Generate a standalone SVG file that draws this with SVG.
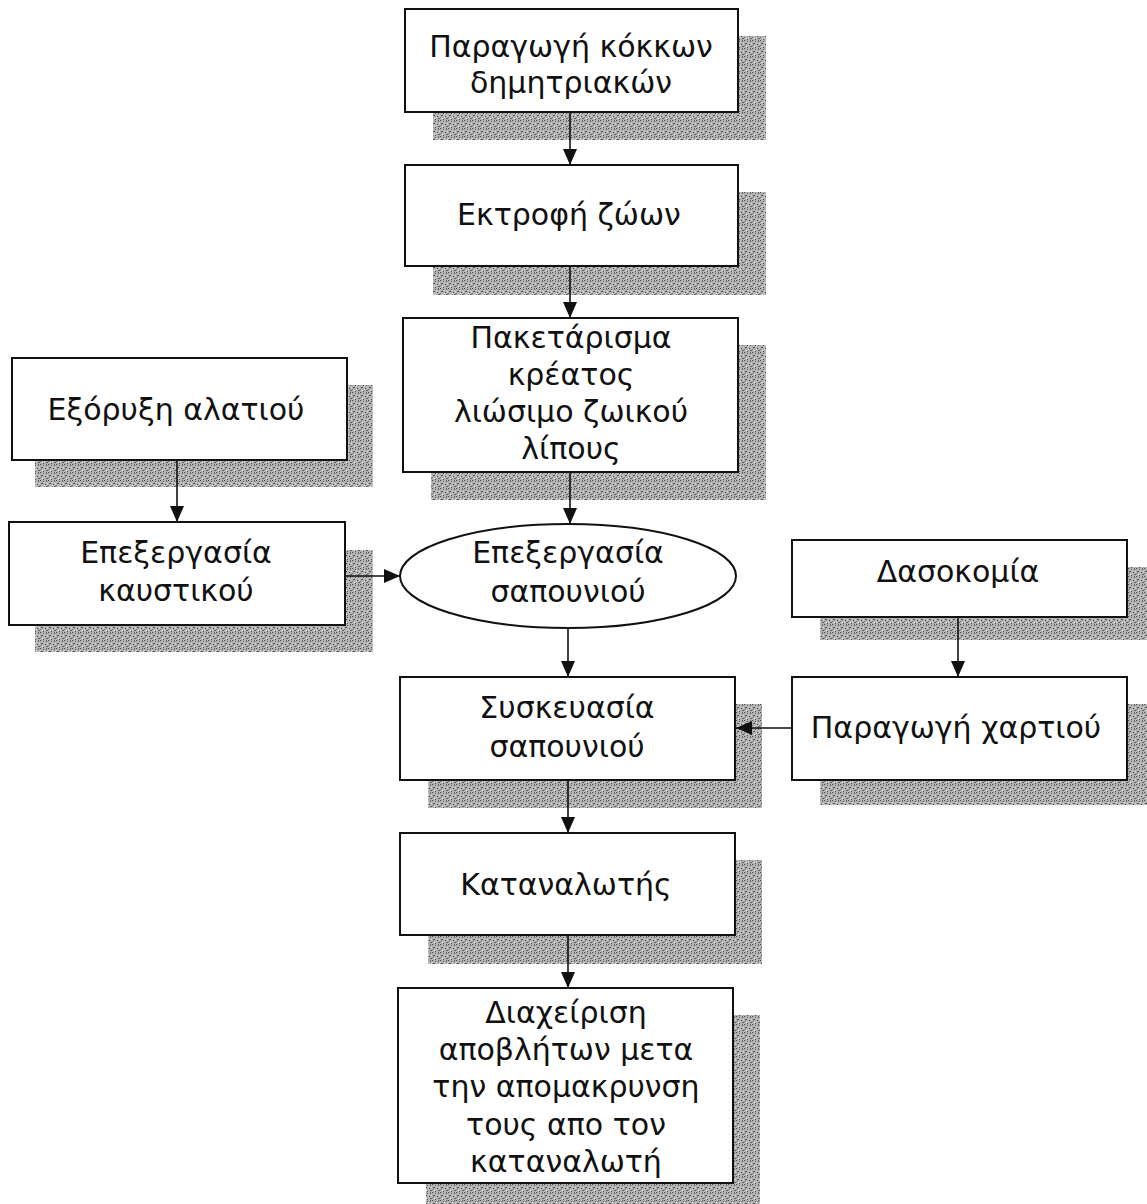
<svg xmlns="http://www.w3.org/2000/svg" width="1147" height="1204" viewBox="0 0 1147 1204">
  <style>
    .box { fill: #ffffff; stroke: #111111; stroke-width: 2; }
    .shadow { fill: url(#grain); }
    .lbl { font-family: "DejaVu Sans", "Liberation Sans", sans-serif; font-size: 30px; fill: #111111; text-anchor: middle; }
    .edge { stroke: #111111; stroke-width: 1.6; fill: none; marker-end: url(#head); }
  </style>
  <defs>
    <!-- dithered grey used for the drop shadows -->
    <pattern id="grain" width="8" height="8" patternUnits="userSpaceOnUse">
      <rect width="8" height="8" fill="#b2b2b2"/>
      <rect x="0" y="0" width="1" height="1" fill="#444444"/>
      <rect x="3" y="1" width="1" height="1" fill="#575757"/>
      <rect x="6" y="0" width="1" height="2" fill="#6a6a6a"/>
      <rect x="1" y="3" width="2" height="1" fill="#505050"/>
      <rect x="5" y="4" width="1" height="1" fill="#4c4c4c"/>
      <rect x="7" y="3" width="1" height="1" fill="#e2e2e2"/>
      <rect x="2" y="6" width="1" height="1" fill="#e8e8e8"/>
      <rect x="4" y="2" width="1" height="1" fill="#dcdcdc"/>
      <rect x="6" y="6" width="2" height="1" fill="#606060"/>
      <rect x="0" y="5" width="1" height="1" fill="#747474"/>
      <rect x="3" y="7" width="1" height="1" fill="#555555"/>
      <rect x="4" y="5" width="1" height="1" fill="#d8d8d8"/>
    </pattern>
    <marker id="head" markerWidth="16" markerHeight="14" refX="16" refY="7" orient="auto" markerUnits="userSpaceOnUse">
      <path d="M0,0 L16,7 L0,14 Z" fill="#111111"/>
    </marker>
  </defs>

  <g id="n-grain">
    <rect class="shadow" x="433" y="36" width="333" height="104"/>
    <rect class="box" x="405" y="9" width="333" height="103"/>
    <text class="lbl" x="571" y="57">Παραγωγή κόκκων</text>
    <text class="lbl" x="571" y="93">δημητριακών</text>
  </g>

  <g id="n-livestock">
    <rect class="shadow" x="433" y="192" width="333" height="103"/>
    <rect class="box" x="405" y="165" width="333" height="101"/>
    <text class="lbl" x="569" y="225">Εκτροφή ζώων</text>
  </g>

  <g id="n-meat">
    <rect class="shadow" x="431" y="345" width="335" height="155"/>
    <rect class="box" x="403" y="318" width="335" height="154"/>
    <text class="lbl" x="571" y="348">Πακετάρισμα</text>
    <text class="lbl" x="571" y="385">κρέατος</text>
    <text class="lbl" x="571" y="422">λιώσιμο ζωικού</text>
    <text class="lbl" x="571" y="459">λίπους</text>
  </g>

  <g id="n-salt">
    <rect class="shadow" x="35" y="385" width="338" height="102"/>
    <rect class="box" x="12" y="358" width="335" height="102"/>
    <text class="lbl" x="176" y="420">Εξόρυξη αλατιού</text>
  </g>

  <g id="n-caustic">
    <rect class="shadow" x="35" y="550" width="338" height="102"/>
    <rect class="box" x="9" y="522" width="336" height="103"/>
    <text class="lbl" x="176" y="563">Επεξεργασία</text>
    <text class="lbl" x="176" y="601">καυστικού</text>
  </g>

  <g id="n-soap">
    <ellipse class="box" cx="568" cy="576" rx="168" ry="52"/>
    <text class="lbl" x="568" y="563">Επεξεργασία</text>
    <text class="lbl" x="568" y="602">σαπουνιού</text>
  </g>

  <g id="n-forestry">
    <rect class="shadow" x="820" y="567" width="327" height="73"/>
    <rect class="box" x="792" y="540" width="335" height="77"/>
    <text class="lbl" x="958" y="582">Δασοκομία</text>
  </g>

  <g id="n-packaging">
    <rect class="shadow" x="428" y="704" width="334" height="104"/>
    <rect class="box" x="400" y="677" width="335" height="103"/>
    <text class="lbl" x="567" y="718">Συσκευασία</text>
    <text class="lbl" x="567" y="757">σαπουνιού</text>
  </g>

  <g id="n-paper">
    <rect class="shadow" x="820" y="704" width="327" height="101"/>
    <rect class="box" x="792" y="677" width="335" height="103"/>
    <text class="lbl" x="956" y="738">Παραγωγή χαρτιού</text>
  </g>

  <g id="n-consumer">
    <rect class="shadow" x="428" y="860" width="334" height="104"/>
    <rect class="box" x="400" y="833" width="335" height="102"/>
    <text class="lbl" x="566" y="895">Καταναλωτής</text>
  </g>

  <g id="n-waste">
    <rect class="shadow" x="426" y="1015" width="334" height="189"/>
    <rect class="box" x="398" y="988" width="335" height="195"/>
    <text class="lbl" x="566" y="1023">Διαχείριση</text>
    <text class="lbl" x="566" y="1060">αποβλήτων μετα</text>
    <text class="lbl" x="566" y="1097">την απομακρυνση</text>
    <text class="lbl" x="566" y="1135">τους απο τον</text>
    <text class="lbl" x="566" y="1172">καταναλωτή</text>
  </g>

  <!-- connectors, drawn over the shadows -->
  <g id="connectors">
    <line class="edge" x1="570" y1="112" x2="570" y2="165"/>
    <line class="edge" x1="570" y1="266" x2="570" y2="318"/>
    <line class="edge" x1="570" y1="472" x2="570" y2="524"/>
    <line class="edge" x1="177" y1="460" x2="177" y2="522"/>
    <line class="edge" x1="345" y1="576" x2="400" y2="576"/>
    <line class="edge" x1="568" y1="628" x2="568" y2="677"/>
    <line class="edge" x1="958" y1="617" x2="958" y2="677"/>
    <line class="edge" x1="792" y1="728" x2="736" y2="728"/>
    <line class="edge" x1="568" y1="780" x2="568" y2="833"/>
    <line class="edge" x1="568" y1="935" x2="568" y2="988"/>
  </g>
</svg>
